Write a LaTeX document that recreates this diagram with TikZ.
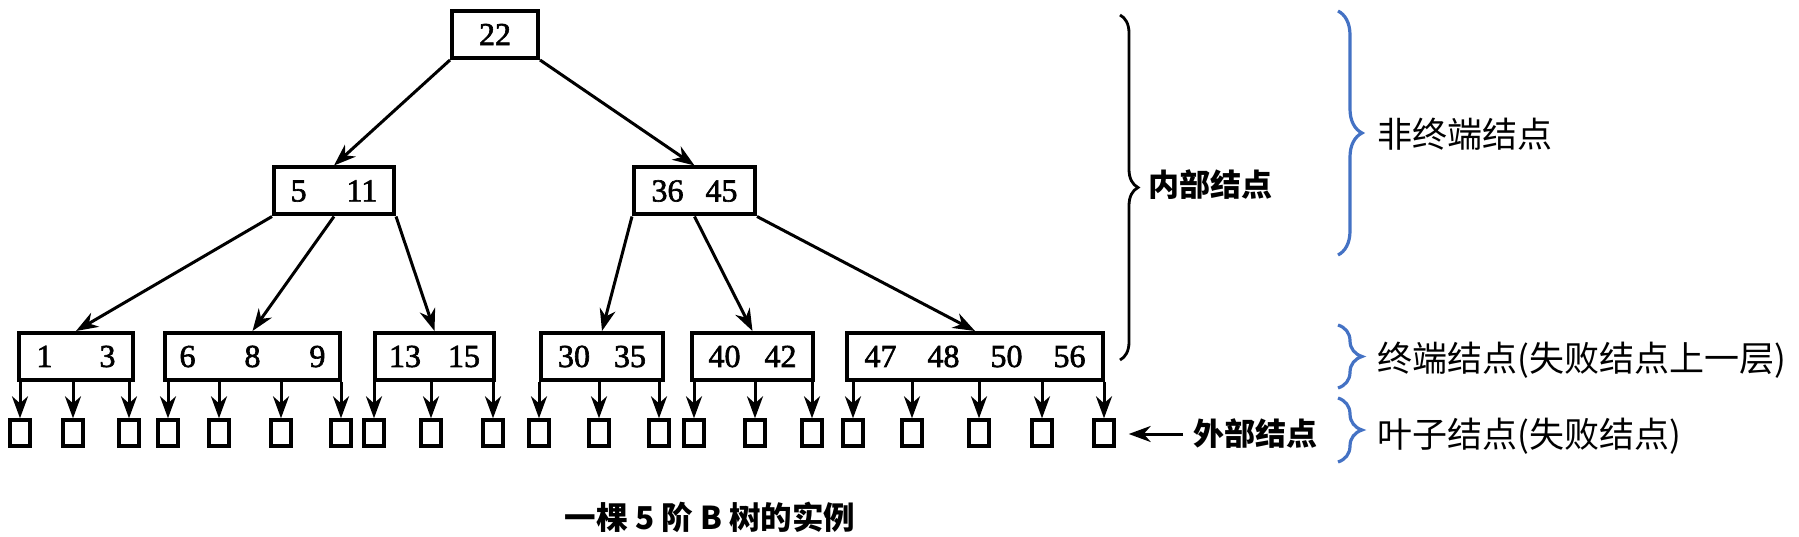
\documentclass[tikz,border=0pt]{standalone}
\usepackage{fontspec}
\setmainfont{Liberation Serif}
\newfontfamily\keyfont{Liberation Serif}[FakeBold=2]
\newfontfamily\cjk{Noto Sans CJK SC}
\usetikzlibrary{arrows.meta,decorations.pathreplacing}
\definecolor{braceblue}{RGB}{68,114,196}

\begin{document}
\begin{tikzpicture}[x=1pt, y=-1pt,
  keybox/.style={draw, line width=4pt, minimum height=47pt, inner sep=0pt,
                 font=\keyfont\fontsize{32}{32}\selectfont},
  extbox/.style={draw, line width=3.4pt, minimum width=20pt, minimum height=26pt, inner sep=0pt},
  ptr/.style={-{Stealth[length=22pt,width=16pt,inset=7pt]}, line width=3pt},
  bracetip/.style={decorate, decoration={brace, amplitude=#1}},
  sidetext/.style={anchor=west, inner sep=0pt, font=\cjk\fontsize{35}{35}\selectfont},
  boldtext/.style={anchor=west, inner sep=0pt, font=\cjk\bfseries\fontsize{31}{31}\selectfont}
]
  \useasboundingbox (0,0) rectangle (1799,537);

  \node[keybox, minimum width=86pt]  (root) at (495,34.5) {22};
  \node[keybox, minimum width=120pt] (n1) at (334,191) {5\hspace{40pt}11};
  \node[keybox, minimum width=121pt] (n2) at (694.5,191) {36\hspace{22pt}45};
  \node[keybox, minimum width=114pt] (l1) at (76,356.5) {1\hspace{47pt}3};
  \node[keybox, minimum width=175pt] (l2) at (252.5,356.5) {6\hspace{49pt}8\hspace{49pt}9};
  \node[keybox, minimum width=119pt] (l3) at (434.5,356.5) {13\hspace{27pt}15};
  \node[keybox, minimum width=122pt] (l4) at (602,356.5) {30\hspace{24pt}35};
  \node[keybox, minimum width=121pt] (l5) at (752.5,356.5) {40\hspace{24pt}42};
  \node[keybox, minimum width=256pt] (l6) at (975,356.5) {47\hspace{31pt}48\hspace{31pt}50\hspace{31pt}56};

  \draw[ptr] (root.south west) -- (n1.north);
  \draw[ptr] (root.south east) -- (n2.north);
  \draw[ptr] (n1.south west) -- (l1.north);
  \draw[ptr] (n1.south) -- (l2.north);
  \draw[ptr] (n1.south east) -- (l3.north);
  \draw[ptr] (n2.south west) -- (l4.north);
  \draw[ptr] (n2.south) -- (l5.north);
  \draw[ptr] (n2.south east) -- (l6.north);

  \foreach \x/\p [count=\i] in {20/l1,73/l1,129/l1,168/l2,219/l2,281/l2,341/l2,
      374/l3,431/l3,493/l3,539/l4,599/l4,659/l4,694/l5,755/l5,812/l5,
      853/l6,912/l6,979/l6,1042/l6,1104/l6}{
    \node[extbox] (e\i) at (\x,433) {};
    \draw[ptr] (e\i |- \p.south) -- (e\i.north);
  }

  \draw[bracetip=18pt, line width=2.8pt] (1120,15) -- (1120,360);
  \node[boldtext] (inner) at (1148,185) {内部结点};

  \node[boldtext] (outer) at (1193,434) {外部结点};
  \draw[ptr, shorten >=13pt] ([xshift=-10pt]outer.west) -- (e21.east |- outer.west);

  \draw[bracetip=24pt, braceblue, line width=3.2pt] (1338,11) -- (1338,255);
  \node[sidetext] (nonterm) at (1377,134) {非终端结点};
  \draw[bracetip=24pt, braceblue, line width=3.2pt] (1338,325) -- (1338,388);
  \node[sidetext] (term) at (1377,360) {终端结点(失败结点上一层)};
  \draw[bracetip=24pt, braceblue, line width=3.2pt] (1338,398) -- (1338,462);
  \node[sidetext] (leaf) at (1377,436) {叶子结点(失败结点)};

  \node[font=\cjk\bfseries\fontsize{31.5}{32}\selectfont] (caption) at (710,517) {一棵 5 阶 B 树的实例};
\end{tikzpicture}
\end{document}
